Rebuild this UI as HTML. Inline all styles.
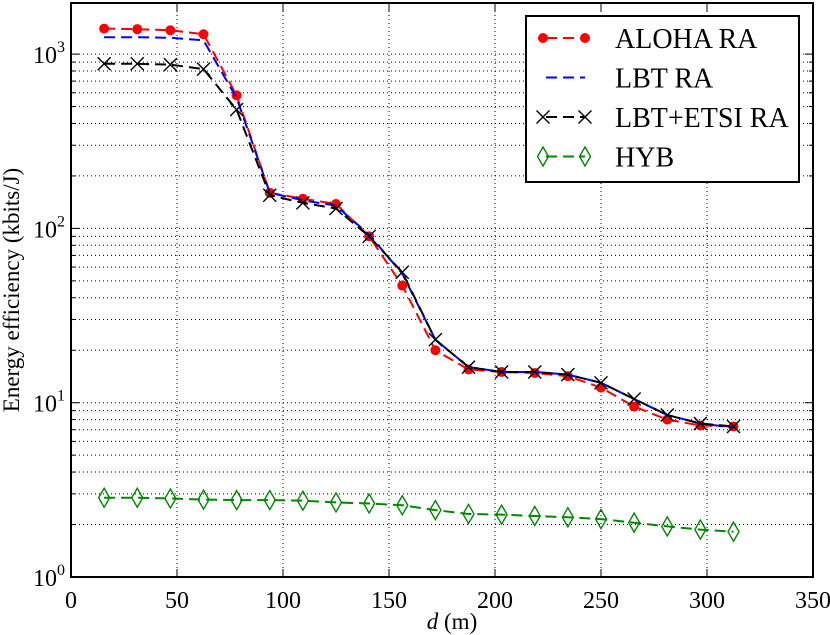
<!DOCTYPE html>
<html><head><meta charset="utf-8"><style>
html,body{margin:0;padding:0;background:#fff;}
svg{display:block;font-family:"Liberation Serif",serif;}
</style></head><body>
<svg id="s" width="830" height="635" xmlns="http://www.w3.org/2000/svg"></svg>
<script>
const L=71,R=813,T=3,B=577,D=174.3;
const X=v=>L+(R-L)*v/350, Y=v=>B-D*Math.log10(v);
let h='';
for(let e=0;e<4;e++)for(let m=1;m<10;m++){const v=m*Math.pow(10,e);const y=Y(v);if(y<T+1||y>B-0.5)continue;
 h+=`<line x1="${L}" x2="${R}" y1="${y}" y2="${y}" stroke="#000" stroke-width="1" stroke-dasharray="1,3"/>`;
 const tl=m==1?8:4;h+=`<line x1="${L}" x2="${L+tl}" y1="${y}" y2="${y}" stroke="#000"/><line x1="${R-tl}" x2="${R}" y1="${y}" y2="${y}" stroke="#000"/>`;}
for(let v=50;v<350;v+=50){const x=X(v);h+=`<line x1="${x}" x2="${x}" y1="${T}" y2="${B}" stroke="#000" stroke-dasharray="1,3"/>`;
 h+=`<line x1="${x}" x2="${x}" y1="${B-8}" y2="${B}" stroke="#000"/><line x1="${x}" x2="${x}" y1="${T}" y2="${T+8}" stroke="#000"/>`;}
for(let v=0;v<=350;v+=50)h+=`<text x="${X(v)}" y="${B+31}" font-size="24" text-anchor="middle">${v}</text>`;
for(let e=0;e<4;e++){const y=Y(Math.pow(10,e));h+=`<text x="${L-6}" y="${y+9}" font-size="24" text-anchor="end">10<tspan font-size="16" dy="-11">${e}</tspan></text>`;}
h+=`<text x="452" y="629" font-size="23" text-anchor="middle"><tspan font-style="italic">d</tspan> (m)</text>`;
h+=`<text transform="translate(19,290) rotate(-90)" font-size="23" text-anchor="middle">Energy efficiency (kbits/J)</text>`;
const xs=[];for(let i=1;i<=20;i++)xs.push(15.625*i);
const S=[
 {c:'#f00',m:'o',d:[1400,1390,1370,1300,580,160,148,138,90,47,20,15.5,15,14.8,14.2,12.2,9.5,8,7.4,7.3]},
 {c:'#00f',m:'',d:[1250,1250,1240,1200,560,160,145,135,92,55,23,16,15,15,14.5,13,10.5,8.5,7.6,7.2]},
 {c:'#000',m:'x',d:[880,880,870,820,480,155,140,130,90,56,23,16,15,15,14.5,13,10.5,8.5,7.6,7.3]},
 {c:'#080',m:'d',d:[2.85,2.85,2.82,2.78,2.76,2.76,2.74,2.68,2.64,2.58,2.42,2.3,2.28,2.24,2.2,2.15,2.05,1.95,1.87,1.82]}];
function mk(t,x,y,c){if(t=='o')return `<circle cx="${x}" cy="${y}" r="5" fill="${c}"/>`;
 if(t=='x')return `<path d="M${x-6.5} ${y-6.5}L${x+6.5} ${y+6.5}M${x-6.5} ${y+6.5}L${x+6.5} ${y-6.5}" stroke="${c}" stroke-width="1.4"/>`;
 if(t=='d')return `<path d="M${x} ${y-9.5}L${x+5.5} ${y}L${x} ${y+9.5}L${x-5.5} ${y}Z" fill="none" stroke="${c}" stroke-width="1.4"/>`;return '';}
S.forEach(s=>{const p=s.d.map((v,i)=>X(xs[i]).toFixed(1)+','+Y(v).toFixed(1)).join(' ');
 h+=`<polyline points="${p}" fill="none" stroke="${s.c}" stroke-width="2" stroke-dasharray="11,6"/>`;
 s.d.forEach((v,i)=>h+=mk(s.m,X(xs[i]),Y(v),s.c));});
h+=`<rect x="${L}" y="${T}" width="${R-L}" height="${B-T}" fill="none" stroke="#000" stroke-width="2"/>`;
h+=`<rect x="526" y="16" width="273" height="166" fill="#fff" stroke="#000" stroke-width="2"/>`;
const ln=['ALOHA RA','LBT RA','LBT+ETSI RA','HYB'];
S.forEach((s,i)=>{const y=38+39.5*i;h+=`<line x1="543" x2="585" y1="${y}" y2="${y}" stroke="${s.c}" stroke-width="2" stroke-dasharray="11,6" stroke-dashoffset="-3"/>`;
 if(s.m){h+=mk(s.m,543,y,s.c)+mk(s.m,585,y,s.c);}
 h+=`<text x="615" y="${y+10}" font-size="28">${ln[i]}</text>`;});
document.getElementById('s').innerHTML=h;
</script>
</body></html>
